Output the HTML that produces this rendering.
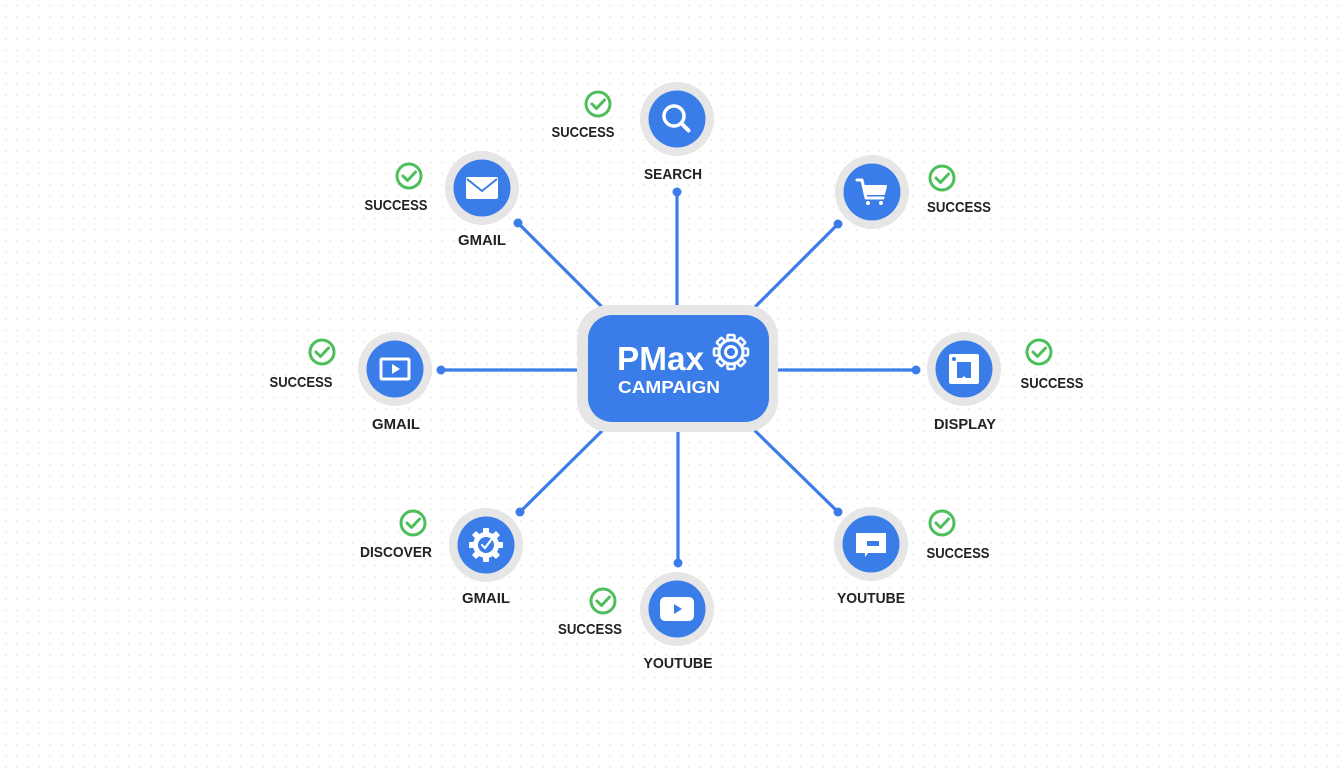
<!DOCTYPE html>
<html><head><meta charset="utf-8"><style>
html,body{margin:0;padding:0;background:#fff;}
svg{display:block;}
text{font-family:"Liberation Sans",sans-serif;font-weight:bold;fill:#222;}
</style></head><body>
<svg width="1344" height="768" viewBox="0 0 1344 768" xmlns="http://www.w3.org/2000/svg">
<defs>
<pattern id="dots" x="0" y="0" width="11.2" height="11.2" patternUnits="userSpaceOnUse">
<circle cx="5.6" cy="5.6" r="0.8" fill="#e2e2e2"/>
</pattern>
<g id="chk">
<circle r="12" fill="#fff" stroke="#4cbf5a" stroke-width="3"/>
<path d="M-6,0 L-1.5,4.5 L6.5,-4" fill="none" stroke="#4cbf5a" stroke-width="3" stroke-linecap="round" stroke-linejoin="round"/>
</g>
<g id="node">
<circle r="37" fill="#e6e6e6"/>
<circle r="28.5" fill="#3b7de8"/>
</g>
</defs>
<rect width="1344" height="768" fill="#fff"/>
<rect width="1344" height="768" fill="url(#dots)"/>

<!-- connectors -->
<g stroke="#3b7de8" stroke-width="3.2" stroke-linecap="round">
<line x1="677" y1="192" x2="677" y2="320"/>
<line x1="518" y1="223" x2="615" y2="320"/>
<line x1="838" y1="224" x2="742" y2="320"/>
<line x1="441" y1="370" x2="600" y2="370"/>
<line x1="760" y1="370" x2="916" y2="370"/>
<line x1="520" y1="512" x2="615" y2="418"/>
<line x1="678" y1="563" x2="678" y2="420"/>
<line x1="838" y1="512" x2="742" y2="418"/>
</g>
<g fill="#3b7de8">
<circle cx="677" cy="192" r="4.5"/>
<circle cx="518" cy="223" r="4.5"/>
<circle cx="838" cy="224" r="4.5"/>
<circle cx="441" cy="370" r="4.5"/>
<circle cx="916" cy="370" r="4.5"/>
<circle cx="520" cy="512" r="4.5"/>
<circle cx="678" cy="563" r="4.5"/>
<circle cx="838" cy="512" r="4.5"/>
</g>

<!-- center -->
<rect x="577" y="305" width="201" height="127" rx="32" fill="#e6e6e6"/>
<rect x="588" y="315" width="181" height="107" rx="24" fill="#3b7de8"/>
<text x="617" y="370" font-size="33" style="fill:#fff" textLength="87" lengthAdjust="spacingAndGlyphs">PMax</text>
<text x="618" y="393" font-size="17.5" style="fill:#fff" textLength="102" lengthAdjust="spacingAndGlyphs">CAMPAIGN</text>
<g transform="translate(731,352)" fill="none" stroke="#fff" stroke-width="2.5">
<rect x="-3.5" y="-17" width="7" height="6" rx="1"/>
<rect x="-3.5" y="-17" width="7" height="6" rx="1" transform="rotate(45)"/>
<rect x="-3.5" y="-17" width="7" height="6" rx="1" transform="rotate(90)"/>
<rect x="-3.5" y="-17" width="7" height="6" rx="1" transform="rotate(135)"/>
<rect x="-3.5" y="-17" width="7" height="6" rx="1" transform="rotate(180)"/>
<rect x="-3.5" y="-17" width="7" height="6" rx="1" transform="rotate(225)"/>
<rect x="-3.5" y="-17" width="7" height="6" rx="1" transform="rotate(270)"/>
<rect x="-3.5" y="-17" width="7" height="6" rx="1" transform="rotate(315)"/>
<circle r="12" fill="#3b7de8" stroke-width="3"/>
<circle r="5.5" stroke-width="3"/>
</g>

<!-- SEARCH -->
<use href="#node" x="677" y="119"/>
<g transform="translate(677,119)" fill="none" stroke="#fff" stroke-linecap="round">
<circle cx="-3" cy="-3" r="10" stroke-width="3.5"/>
<line x1="4.5" y1="4.5" x2="11.5" y2="11.5" stroke-width="4"/>
</g>
<text x="673" y="179" font-size="15" text-anchor="middle" textLength="58" lengthAdjust="spacingAndGlyphs">SEARCH</text>
<use href="#chk" x="598" y="104"/>
<text x="583" y="137" font-size="15" text-anchor="middle" textLength="63" lengthAdjust="spacingAndGlyphs">SUCCESS</text>

<!-- GMAIL top-left -->
<use href="#node" x="482" y="188"/>
<g transform="translate(482,188)">
<rect x="-16" y="-11" width="32" height="22" rx="2" fill="#fff"/>
<path d="M-15,-9 L0,3 L15,-9" fill="none" stroke="#3b7de8" stroke-width="2"/>
</g>
<text x="482" y="245" font-size="15" text-anchor="middle" textLength="48" lengthAdjust="spacingAndGlyphs">GMAIL</text>
<use href="#chk" x="409" y="176"/>
<text x="396" y="210" font-size="15" text-anchor="middle" textLength="63" lengthAdjust="spacingAndGlyphs">SUCCESS</text>

<!-- CART -->
<use href="#node" x="872" y="192"/>
<g transform="translate(872,192)" fill="none" stroke="#fff" stroke-linecap="round" stroke-linejoin="round">
<path d="M-15,-12 L-10,-12 L-6,6 L11,6" stroke-width="3"/>
<path d="M-8,-6 L14,-6 L12,2 L-6,2 Z" fill="#fff" stroke-width="2"/>
<circle cx="-4" cy="11" r="2" fill="#fff" stroke="none"/>
<circle cx="9" cy="11" r="2" fill="#fff" stroke="none"/>
</g>
<use href="#chk" x="942" y="178"/>
<text x="959" y="212" font-size="15" text-anchor="middle" textLength="64" lengthAdjust="spacingAndGlyphs">SUCCESS</text>

<!-- VIDEO left -->
<use href="#node" x="395" y="369"/>
<g transform="translate(395,369)">
<rect x="-14" y="-10" width="28" height="20" rx="1" fill="none" stroke="#fff" stroke-width="3"/>
<path d="M-3,-5 L5,0 L-3,5 Z" fill="#fff"/>
</g>
<text x="396" y="429" font-size="15" text-anchor="middle" textLength="48" lengthAdjust="spacingAndGlyphs">GMAIL</text>
<use href="#chk" x="322" y="352"/>
<text x="301" y="387" font-size="15" text-anchor="middle" textLength="63" lengthAdjust="spacingAndGlyphs">SUCCESS</text>

<!-- DISPLAY -->
<use href="#node" x="964" y="369"/>
<g transform="translate(964,369)">
<rect x="-15" y="-15" width="30" height="30" rx="2" fill="#fff"/>
<path d="M-7,-7 L7,-7 L7,9 L2,9 L0,7 L-2,9 L-7,9 Z" fill="#3b7de8"/>
<circle cx="-10" cy="-10" r="2" fill="#3b7de8"/>
</g>
<text x="965" y="429" font-size="15" text-anchor="middle" textLength="62" lengthAdjust="spacingAndGlyphs">DISPLAY</text>
<use href="#chk" x="1039" y="352"/>
<text x="1052" y="388" font-size="15" text-anchor="middle" textLength="63" lengthAdjust="spacingAndGlyphs">SUCCESS</text>

<!-- DISCOVER -->
<use href="#node" x="486" y="545"/>
<g transform="translate(486,545)" fill="#fff">
<rect x="-3" y="-17" width="6" height="6" rx="1"/>
<rect x="-3" y="-17" width="6" height="6" rx="1" transform="rotate(45)"/>
<rect x="-3" y="-17" width="6" height="6" rx="1" transform="rotate(90)"/>
<rect x="-3" y="-17" width="6" height="6" rx="1" transform="rotate(135)"/>
<rect x="-3" y="-17" width="6" height="6" rx="1" transform="rotate(180)"/>
<rect x="-3" y="-17" width="6" height="6" rx="1" transform="rotate(225)"/>
<rect x="-3" y="-17" width="6" height="6" rx="1" transform="rotate(270)"/>
<rect x="-3" y="-17" width="6" height="6" rx="1" transform="rotate(315)"/>
<circle r="13"/>
<circle r="8" fill="#3b7de8"/>
<path d="M-4,0 L-1,3 L5,-5" fill="none" stroke="#fff" stroke-width="2.2" stroke-linecap="round"/>
</g>
<text x="486" y="603" font-size="15" text-anchor="middle" textLength="48" lengthAdjust="spacingAndGlyphs">GMAIL</text>
<use href="#chk" x="413" y="523"/>
<text x="396" y="557" font-size="15" text-anchor="middle" textLength="72" lengthAdjust="spacingAndGlyphs">DISCOVER</text>

<!-- YOUTUBE bottom-right -->
<use href="#node" x="871" y="544"/>
<g transform="translate(871,544)">
<path d="M-15,-11 L15,-11 L15,9 L-3,9 L-6,13 L-6,9 L-15,9 Z" fill="#fff"/>
<rect x="-4" y="-3" width="12" height="5" fill="#3b7de8"/>
</g>
<text x="871" y="603" font-size="15" text-anchor="middle" textLength="68" lengthAdjust="spacingAndGlyphs">YOUTUBE</text>
<use href="#chk" x="942" y="523"/>
<text x="958" y="558" font-size="15" text-anchor="middle" textLength="63" lengthAdjust="spacingAndGlyphs">SUCCESS</text>

<!-- YOUTUBE bottom -->
<use href="#node" x="677" y="609"/>
<g transform="translate(677,609)">
<rect x="-17" y="-12" width="34" height="24" rx="5" fill="#fff"/>
<path d="M-3,-5 L5,0 L-3,5 Z" fill="#3b7de8"/>
</g>
<text x="678" y="668" font-size="15" text-anchor="middle" textLength="69" lengthAdjust="spacingAndGlyphs">YOUTUBE</text>
<use href="#chk" x="603" y="601"/>
<text x="590" y="634" font-size="15" text-anchor="middle" textLength="64" lengthAdjust="spacingAndGlyphs">SUCCESS</text>
</svg>
</body></html>
